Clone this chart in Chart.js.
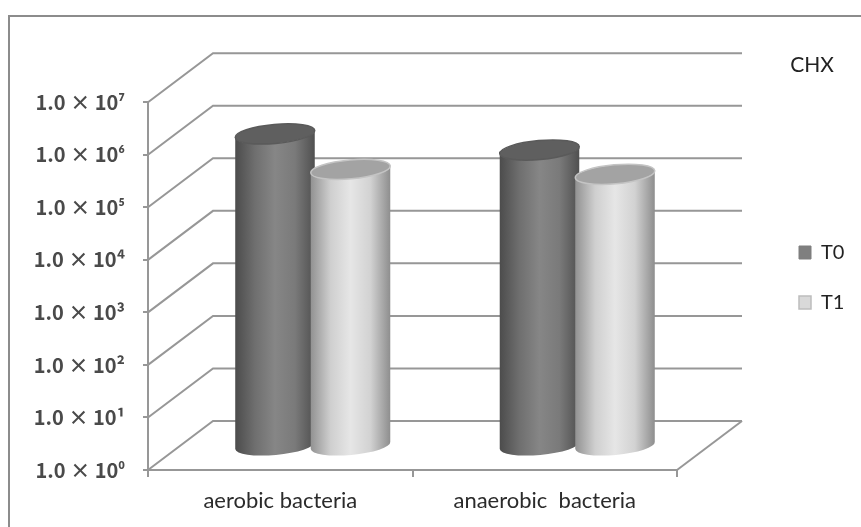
<!DOCTYPE html>
<html>
<head>
<meta charset="utf-8">
<script src="https://cdn.jsdelivr.net/npm/chart.js@4"></script>
<style>
    html, body { margin: 0; padding: 0; background: #fff; overflow: hidden; }
    #frame { position: absolute; left: 8px; top: 15px; right: 0; bottom: 0; border-left: 2px solid #8c8c8c; border-top: 2px solid #8c8c8c; }
    #wrap { position: absolute; left: 0; top: 0; width: 861px; height: 527px; }
</style>
</head>
<body>
<div id="frame"></div>
<div id="wrap"><canvas id="chx"></canvas></div>
<script>
const categories = ['aerobic bacteria', 'anaerobic  bacteria'];
const t0Values = [850000, 420000];
const t1Values = [180000, 145000];
const tickValues = [1, 10, 100, 1000, 10000, 100000, 1000000, 10000000];
const tickLabels = ['1.0 × 10⁰', '1.0 × 10¹', '1.0 × 10²', '1.0 × 10³', '1.0 × 10⁴', '1.0 × 10⁵', '1.0 × 10⁶', '1.0 × 10⁷'];

const depthX = 65;
const depthY = 49;
const lineGrey = '#979797';

const looks = [
    { stops: ['#4c4c4c', '#6f6f6f', '#868686', '#7a7a7a', '#505050'], cap: '#5f5f5f', edge: '#5a5a5a' },
    { stops: ['#929292', '#cfcfcf', '#e6e6e6', '#d2d2d2', '#8e8e8e'], cap: '#a3a3a3', edge: '#c4c4c4' }
];

function drawCylinder(ctx, bar, look) {
    const cx = bar.x + depthX / 2;
    const top = bar.y - depthY / 2;
    const bottom = bar.base - depthY / 2;
    const tilt = -0.09;
    const rx = bar.width / 2 / Math.cos(tilt);
    const ry = 9.5;
    const lift = bar.width / 2 * Math.tan(tilt);

    const grad = ctx.createLinearGradient(cx - bar.width / 2, 0, cx + bar.width / 2, 0);
    look.stops.forEach((c, i) => grad.addColorStop(i / (look.stops.length - 1), c));

    ctx.beginPath();
    ctx.moveTo(cx - bar.width / 2, top - lift);
    ctx.lineTo(cx - bar.width / 2, bottom - lift);
    ctx.ellipse(cx, bottom, rx, ry, tilt, Math.PI, 0, true);
    ctx.lineTo(cx + bar.width / 2, top + lift);
    ctx.ellipse(cx, top, rx, ry, tilt, 0, Math.PI, false);
    ctx.closePath();
    ctx.fillStyle = grad;
    ctx.fill();

    ctx.beginPath();
    ctx.ellipse(cx, top, rx, ry, tilt, 0, Math.PI * 2);
    ctx.fillStyle = look.cap;
    ctx.fill();
    ctx.strokeStyle = look.edge;
    ctx.lineWidth = 1.5;
    ctx.stroke();
}

// back wall, side lines and floor, then the cylinders so T1 sits over T0
const depthPlugin = {
    id: 'depth',
    afterLayout(chart) {
        chart.titleBlock.left -= 21;
        chart.titleBlock.right -= 21;
        chart.legend.left = 769;
    },
    beforeDatasetsDraw(chart) {
        const { ctx, chartArea, scales } = chart;
        ctx.save();
        ctx.strokeStyle = lineGrey;
        ctx.lineWidth = 2;
        tickValues.forEach(v => {
            const y = scales.y.getPixelForValue(v);
            ctx.beginPath();
            ctx.moveTo(chartArea.left, y);
            ctx.lineTo(chartArea.left + depthX, y - depthY);
            ctx.lineTo(chartArea.right + depthX, y - depthY);
            ctx.stroke();
        });
        ctx.beginPath();
        ctx.moveTo(chartArea.right, chartArea.bottom);
        ctx.lineTo(chartArea.right + depthX, chartArea.bottom - depthY);
        ctx.stroke();
        chart.data.datasets.forEach((ds, i) => {
            chart.getDatasetMeta(i).data.forEach(bar => drawCylinder(ctx, bar, looks[i]));
        });
        ctx.restore();
        return false;
    }
};

new Chart(document.getElementById('chx'), {
    type: 'bar',
    plugins: [depthPlugin],
    data: {
        labels: categories,
        datasets: [
            { label: 'T0', data: t0Values, backgroundColor: '#7f7f7f', borderColor: '#7f7f7f', borderWidth: 1 },
            { label: 'T1', data: t1Values, backgroundColor: '#d9d9d9', borderColor: '#bdbdbd', borderWidth: 1.5 }
        ]
    },
    options: {
        responsive: true,
        maintainAspectRatio: false,
        animation: false,
        categoryPercentage: 0.571,
        barPercentage: 1.053,
        layout: { padding: { top: 28, right: 6, left: 0, bottom: 0 } },
        plugins: {
            tooltip: { enabled: false },
            title: {
                display: true,
                text: 'CHX',
                align: 'end',
                color: '#222',
                font: { family: 'Lato', size: 21, weight: 'normal', lineHeight: 1.2 },
                padding: { top: 25, bottom: 24 }
            },
            legend: {
                position: 'right',
                labels: {
                    boxWidth: 12,
                    boxHeight: 13,
                    padding: 30,
                    color: '#222',
                    font: { family: 'Lato', size: 20 }
                }
            }
        },
        scales: {
            x: {
                offset: true,
                grid: { drawOnChartArea: false, tickLength: 7, tickColor: lineGrey, lineWidth: 2, offset: true },
                border: { color: lineGrey, width: 2 },
                ticks: { padding: 11, color: '#2b2b2b', font: { family: 'Lato', size: 22 }, maxRotation: 0 },
                afterFit(s) { s.height = 57; }
            },
            y: {
                type: 'logarithmic',
                min: 1,
                max: 10000000,
                grid: { drawOnChartArea: false, tickLength: 5, tickColor: lineGrey, lineWidth: 2 },
                border: { color: lineGrey, width: 2 },
                afterBuildTicks(s) { s.ticks = tickValues.map(v => ({ value: v, major: true })); },
                ticks: {
                    autoSkip: false,
                    padding: 18,
                    color: '#4a4a4a',
                    font: { family: '"Noto Sans CJK JP", Lato', size: 20, weight: 'bold' },
                    callback(v) { return tickLabels[tickValues.indexOf(v)]; }
                },
                afterFit(s) { s.width = 148; }
            },
            // empty axis keeps room for the depth of the plot between it and the legend
            room: {
                type: 'linear',
                position: 'right',
                grid: { display: false },
                border: { display: false },
                ticks: { display: false },
                afterFit(s) { s.width = 861 - 6 - s.chart.legend.width - 677; }
            }
        }
    }
});
</script>
</body>
</html>
